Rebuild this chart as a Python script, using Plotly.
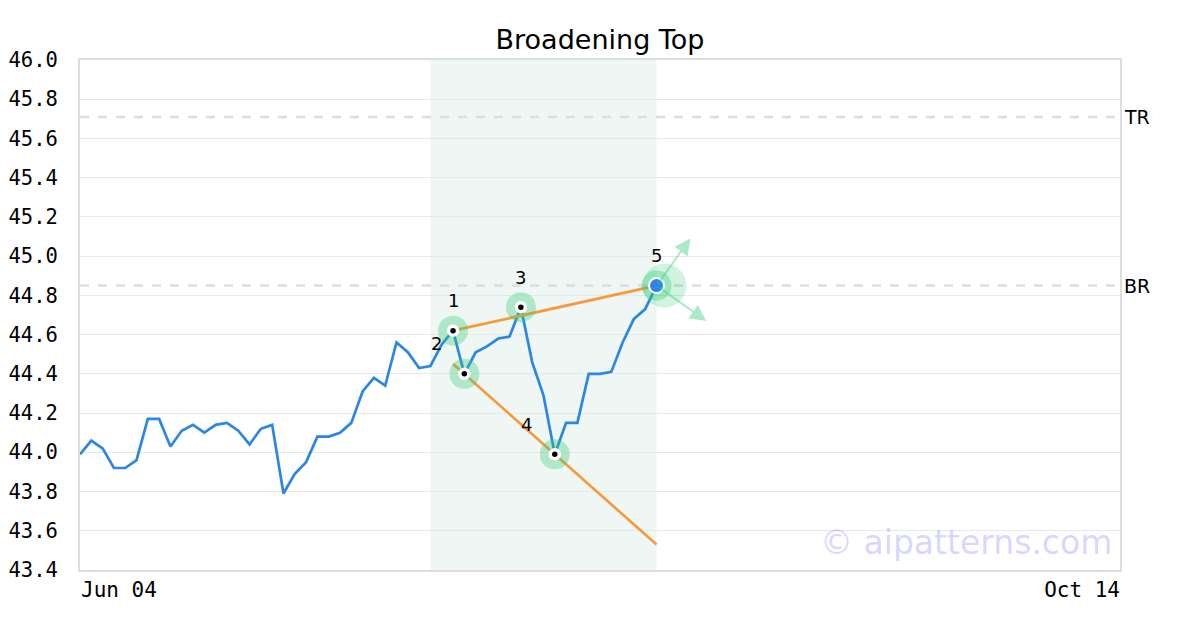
import plotly.graph_objects as go

# ---- data ----
prices = [43.99, 44.06, 44.02, 43.92, 43.92, 43.96, 44.17, 44.17, 44.03, 44.11,
          44.14, 44.10, 44.14, 44.15, 44.11, 44.04, 44.12, 44.14, 43.79, 43.89,
          43.95, 44.08, 44.08, 44.10, 44.15, 44.31, 44.38, 44.34, 44.56, 44.51,
          44.43, 44.44, 44.55, 44.62, 44.40, 44.51, 44.54, 44.58, 44.59, 44.74,
          44.46, 44.29, 43.99, 44.15, 44.15, 44.40, 44.40, 44.41, 44.56, 44.68,
          44.73, 44.85]
x_idx = list(range(len(prices)))
x_max = 92
tick_labels = ["Jun 04", "Oct 14"]

pivot_idx = [33, 34, 39, 42]
pivot_labels = ["1", "2", "3", "4"]
pivot_is_high = [True, False, True, False]
breakout_idx = 51
breakout_label = "5"

upper_line_x = [33, 51]
upper_line_y = [44.62, 44.85]
lower_line_x = [33, 51]
lower_line_y = [44.45, 43.53]

zone_x = [31, 51]
tr_level = 45.71
br_level = 44.85

arrow_heads_x = [54.0, 55.4]
arrow_heads_y = [45.09, 44.67]

BLUE = "#2b87e3"
ORANGE = "#f79a3e"
HALO = "rgba(46,204,113,0.33)"
MONO = "DejaVu Sans Mono"
SANS = "DejaVu Sans"

W, H = 1184, 614

fig = go.Figure()

# price line
fig.add_trace(go.Scatter(x=x_idx, y=prices, mode="lines",
                         line=dict(color=BLUE, width=2.7), hoverinfo="skip"))
# trend lines
fig.add_trace(go.Scatter(x=upper_line_x, y=upper_line_y, mode="lines",
                         line=dict(color=ORANGE, width=2.7), hoverinfo="skip"))
fig.add_trace(go.Scatter(x=lower_line_x, y=lower_line_y, mode="lines",
                         line=dict(color=ORANGE, width=2.7), hoverinfo="skip"))

piv_y = [prices[i] for i in pivot_idx]
# halos
fig.add_trace(go.Scatter(x=pivot_idx + [breakout_idx], y=piv_y + [prices[breakout_idx]],
                         mode="markers", marker=dict(size=30, color=HALO),
                         hoverinfo="skip"))
# bigger halo around breakout
fig.add_trace(go.Scatter(x=[breakout_idx + 0.7], y=[prices[breakout_idx]], mode="markers",
                         marker=dict(size=44, color="rgba(46,204,113,0.22)"),
                         hoverinfo="skip"))
# pivot dots
fig.add_trace(go.Scatter(x=pivot_idx, y=piv_y, mode="markers",
                         marker=dict(size=9, color="black", line=dict(color="white", width=3.5)),
                         hoverinfo="skip"))
fig.add_trace(go.Scatter(x=[breakout_idx], y=[prices[breakout_idx]], mode="markers",
                         marker=dict(size=15, color=BLUE, line=dict(color="white", width=2)),
                         hoverinfo="skip"))

# pivot labels
for i, lab, hi in zip(pivot_idx, pivot_labels, pivot_is_high):
    fig.add_annotation(x=i, y=prices[i], text=lab, showarrow=False,
                       xshift=0 if hi else -28, yshift=30,
                       font=dict(family=SANS, size=18, color="black"))
fig.add_annotation(x=breakout_idx, y=prices[breakout_idx], text=breakout_label,
                   showarrow=False, yshift=30,
                   font=dict(family=SANS, size=18, color="black"))

# arrows
for hx, hy in zip(arrow_heads_x, arrow_heads_y):
    fig.add_annotation(x=hx, y=hy, ax=breakout_idx, ay=prices[breakout_idx],
                       xref="x", yref="y", axref="x", ayref="y", text="",
                       showarrow=True, arrowhead=2, arrowsize=1.6, arrowwidth=2,
                       arrowcolor="rgba(46,204,113,0.40)")

# zone
fig.add_vrect(x0=zone_x[0], x1=zone_x[1], fillcolor="#eef7f3", opacity=1,
              line_width=0, layer="below")

# levels
for lvl, name in [(tr_level, "TR"), (br_level, "BR")]:
    fig.add_hline(y=lvl, line=dict(color="#dddddd", width=2.5, dash="dash"), layer="below")
    fig.add_annotation(x=1, xref="paper", y=lvl, yref="y", text=name, showarrow=False,
                       xanchor="left", xshift=2,
                       font=dict(family=SANS, size=19, color="black"))

# watermark
fig.add_annotation(x=1, xref="paper", y=0, yref="paper", text="© aipatterns.com",
                   showarrow=False, xanchor="right", yanchor="bottom",
                   xshift=-6, yshift=6,
                   font=dict(family=SANS, size=33, color="rgba(110,110,255,0.28)"))

fig.update_layout(
    width=W, height=H,
    margin=dict(l=72, r=72, t=52, b=52),
    paper_bgcolor="white", plot_bgcolor="white",
    showlegend=False,
    title=dict(text="Broadening Top", x=0.5, xanchor="center", xref="paper",
               y=1 - 32 / H, yanchor="middle", automargin=False,
               font=dict(family=SANS, size=27, color="black")),
    xaxis=dict(range=[0, x_max], tickvals=[0], ticktext=[tick_labels[0]],
               ticklabelposition="outside right", ticks="", showgrid=False,
               zeroline=False, showline=True, linecolor="#dddddd", linewidth=2,
               mirror=True, automargin=False, ticklabelstandoff=0,
               tickfont=dict(family=MONO, size=21, color="black")),
    xaxis2=dict(range=[0, x_max], overlaying="x", side="bottom", tickvals=[x_max],
                ticktext=[tick_labels[1]], ticklabelposition="outside left", ticks="",
                showgrid=False, zeroline=False, showline=False, automargin=False,
                ticklabelstandoff=5,
                tickfont=dict(family=MONO, size=21, color="black")),
    yaxis=dict(range=[43.4, 46.0], dtick=0.2, tickformat=".1f", showgrid=True,
               gridcolor="#e8e8e8", gridwidth=1, zeroline=False, showline=True,
               linecolor="#dddddd", linewidth=2, mirror=True, ticks="",
               ticklabelstandoff=16, automargin=False,
               tickfont=dict(family=MONO, size=20.5, color="black")),
)
# dummy trace to activate xaxis2
fig.add_trace(go.Scatter(x=[0], y=[None], xaxis="x2", mode="markers", hoverinfo="skip",
                         showlegend=False))

fig.write_html("out.html")
